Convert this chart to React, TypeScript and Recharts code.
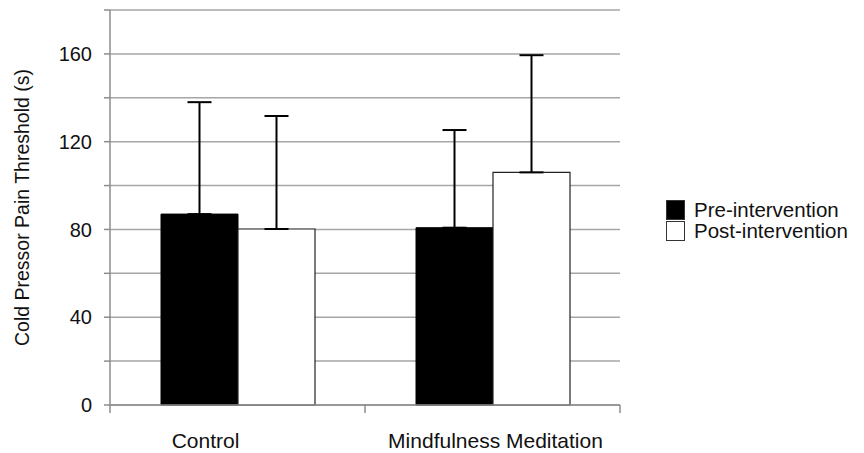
import React from 'react';
import { BarChart, Bar, XAxis, YAxis, CartesianGrid, ErrorBar } from 'recharts';

const groups = ['Control', 'Mindfulness Meditation'];
const preMeans = [87, 80.8];
const postMeans = [80.2, 106];
const preErr = [51, 44.5];
const postErr = [51.5, 53.4];
const yTicks = [0, 20, 40, 60, 80, 100, 120, 140, 160, 180];
const yLabels = [0, 40, 80, 120, 160];
const seriesNames = ['Pre-intervention', 'Post-intervention'];

const data = groups.map((name, i) => ({
  name,
  pre: preMeans[i],
  post: postMeans[i],
  preErr: [0, preErr[i]],
  postErr: [0, postErr[i]],
}));

const FONT = '"Liberation Sans", Arial, sans-serif';
const AXIS = '#8c8c8c';
const GRID = '#a6a6a6';

const XTick = (props: any) => {
  const { x, y, payload, index } = props;
  const half = 127.5;
  const top = y - 8;
  // first label sits left of its category centre in the source
  const dx = index === 0 ? -32 : 3;
  return (
    <g>
      <line x1={x - half} x2={x - half} y1={top} y2={top + 8} stroke={AXIS} strokeWidth={1.5} />
      {index === groups.length - 1 && (
        <line x1={x + half} x2={x + half} y1={top} y2={top + 8} stroke={AXIS} strokeWidth={1.5} />
      )}
      <text x={x + dx} y={top + 43} textAnchor="middle" fontSize={21} fill="#111" fontFamily={FONT}>
        {payload.value}
      </text>
    </g>
  );
};

const LegendBox = () => (
  <div
    style={{
      position: 'absolute',
      left: 666,
      top: 199,
      fontFamily: FONT,
      fontSize: 20.5,
      color: '#111',
      lineHeight: '22px',
    }}
  >
    {seriesNames.map((n, i) => (
      <div key={n} style={{ display: 'flex', alignItems: 'center', height: 21 }}>
        <span
          style={{
            display: 'inline-block',
            width: 17,
            height: 18,
            background: i === 0 ? '#000' : '#fff',
            border: '1px solid #333',
            marginRight: 9,
          }}
        />
        {n}
      </div>
    ))}
  </div>
);

export default function App() {
  return (
    <div style={{ position: 'absolute', left: 0, top: 0, width: 864, height: 453, background: '#fff' }}>
      <BarChart
        width={864}
        height={453}
        data={data}
        margin={{ top: 10, right: 244, left: 0, bottom: 0 }}
        barCategoryGap="20%"
        barGap={0}
      >
        <CartesianGrid vertical={false} stroke={GRID} strokeWidth={1.5} />
        <XAxis
          dataKey="name"
          height={48}
          tickLine={false}
          axisLine={{ stroke: AXIS, strokeWidth: 1.5 }}
          tick={<XTick />}
          interval={0}
        />
        <YAxis
          width={110}
          domain={[0, 180]}
          ticks={yTicks}
          interval={0}
          tickSize={6}
          tickMargin={12}
          axisLine={{ stroke: AXIS, strokeWidth: 1.5 }}
          tickLine={{ stroke: AXIS, strokeWidth: 1.5 }}
          tick={{ fontSize: 20, fill: '#111', fontFamily: FONT }}
          tickFormatter={(v: number) => (yLabels.includes(v) ? String(v) : '')}
          label={{
            value: 'Cold Pressor Pain Threshold (s)',
            angle: -90,
            position: 'insideLeft',
            dx: 17,
            dy: 0,
            style: { fontSize: 19.5, fill: '#111', fontFamily: FONT, textAnchor: 'middle' },
          }}
        />
        <Bar dataKey="pre" name={seriesNames[0]} fill="#000" stroke="#000" isAnimationActive={false}>
          <ErrorBar dataKey="preErr" direction="y" width={12} stroke="#000" strokeWidth={2} isAnimationActive={false} />
        </Bar>
        <Bar dataKey="post" name={seriesNames[1]} fill="#fff" stroke="#222" strokeWidth={1.2} isAnimationActive={false}>
          <ErrorBar dataKey="postErr" direction="y" width={12} stroke="#000" strokeWidth={2} isAnimationActive={false} />
        </Bar>
      </BarChart>
      <LegendBox />
    </div>
  );
}
